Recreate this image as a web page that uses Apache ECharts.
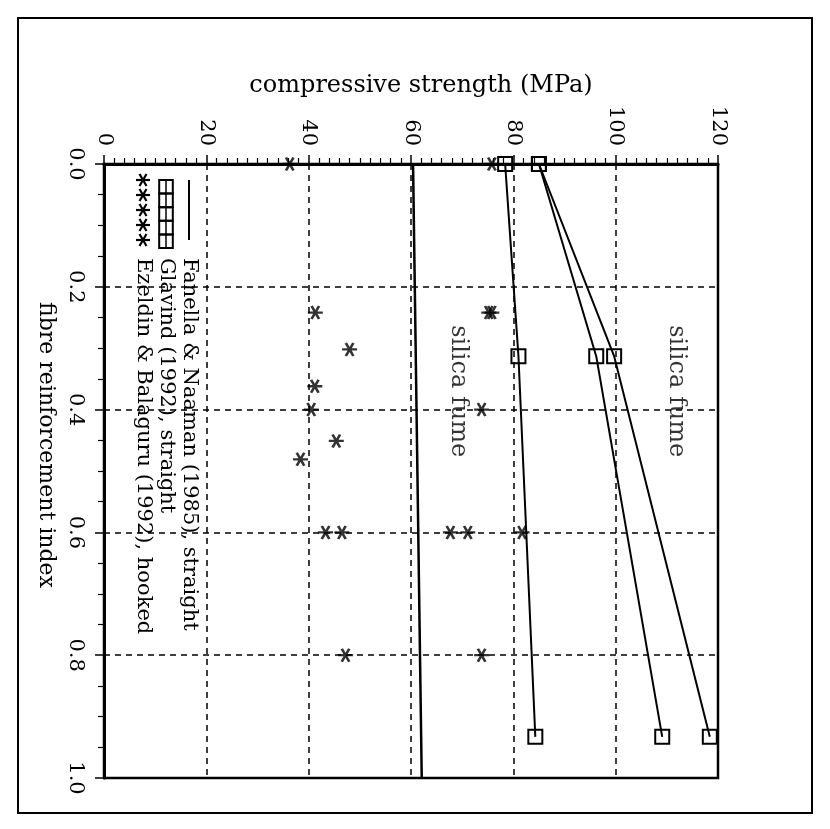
<!DOCTYPE html>
<html>
<head>
<meta charset="utf-8">
<script src="https://cdn.jsdelivr.net/npm/echarts@6/dist/echarts.min.js"></script>
<style>
  html, body { margin: 0; padding: 0; background: #fff; }
  #chart { width: 830px; height: 829px; }
</style>
</head>
<body>
<div id="chart"></div>
<script>
// axis ticks
var strengthTicks = [0, 20, 40, 60, 80, 100, 120];
var indexTicks = [0, 0.2, 0.4, 0.6, 0.8, 1.0];

// Fanella & Naaman (1985), straight
var fanellaIndex = [0, 1.0];
var fanellaStrength = [60.4, 62.1];

// Glavind (1992), straight - three mixes
var glavindIndex = [0, 0.313, 0.933];
var glavindLow = [78.4, 81.0, 84.3];
var glavindMid = [85.0, 96.2, 109.1];
var glavindHigh = [85.0, 99.7, 118.4];

// Ezeldin & Balaguru (1992), hooked
var ezeldinIndex = [0, 0, 0.242, 0.242, 0.242, 0.302, 0.362, 0.4, 0.4, 0.451, 0.481,
  0.6, 0.6, 0.6, 0.6, 0.6, 0.8, 0.8];
var ezeldinStrength = [36.3, 75.8, 41.3, 75.2, 75.8, 48.0, 41.2, 40.5, 73.8, 45.4, 38.4,
  43.3, 46.5, 67.7, 71.1, 81.7, 47.2, 73.8];

// notes in the plot
var noteText = ["silica fume", "silica fume"];
var noteIndex = [0.37, 0.37];
var noteStrength = [69.3, 111.8];

var serif = "DejaVu Serif";
var star = "path://M0,8.66L20,8.66M5,0L15,17.32M15,0L5,17.32";

function pairs(xs, ys) {
  return xs.map(function (x, i) { return [x, ys[i]]; });
}

var chart = echarts.init(document.getElementById("chart"));

// legend drawn by hand, turned a quarter clockwise like the rest of the text
var legendItems = [];
legendItems.push({ type: "line", shape: { x1: 4, y1: 11, x2: 64, y2: 11 }, style: { stroke: "#000", lineWidth: 2 } });
for (var i = 0; i < 5; i++) {
  legendItems.push({ type: "rect", shape: { x: 4 + i * 13.6, y: 27.2, width: 13.6, height: 13.6 },
    style: { fill: "none", stroke: "#000", lineWidth: 2 } });
}
legendItems.push({ type: "line", shape: { x1: 4, y1: 34, x2: 72, y2: 34 }, style: { stroke: "#000", lineWidth: 1.5 } });
for (var j = 0; j < 5; j++) {
  var cx = 4 + j * 15, cy = 57;
  [[0, -7, 0, 7], [-6.06, -3.5, 6.06, 3.5], [-6.06, 3.5, 6.06, -3.5]].forEach(function (s) {
    legendItems.push({ type: "line", shape: { x1: cx + s[0], y1: cy + s[1], x2: cx + s[2], y2: cy + s[3] },
      style: { stroke: "#000", lineWidth: 2.2 } });
  });
}
var legendText = ["Fanella & Naaman (1985), straight", "Glavind (1992), straight", "Ezeldin & Balaguru (1992), hooked"];
legendText.forEach(function (t, k) {
  legendItems.push({ type: "text", x: 82, y: 11 + k * 23,
    style: { text: t, font: "21px '" + serif + "'", fill: "#000", verticalAlign: "middle" } });
});

var glavindLine = {
  type: "line",
  symbol: "rect",
  symbolSize: 14,
  lineStyle: { color: "#000", width: 2 },
  itemStyle: { color: "rgba(0,0,0,0)", borderColor: "#000", borderWidth: 2 },
  z: 3
};

var option = {
  animation: false,
  backgroundColor: "#fff",
  grid: {
    left: 104, top: 164, right: 112, bottom: 51,
    show: true, borderColor: "#000", borderWidth: 2.5, backgroundColor: "transparent"
  },
  xAxis: {
    type: "value",
    position: "top",
    min: strengthTicks[0],
    max: strengthTicks[strengthTicks.length - 1],
    interval: strengthTicks[1] - strengthTicks[0],
    name: "compressive strength (MPa)",
    nameLocation: "middle",
    nameGap: 60,
    nameTextStyle: { fontFamily: serif, fontSize: 24, color: "#000", padding: [0, 0, 0, 20] },
    axisLine: { show: true, lineStyle: { color: "#000", width: 3 } },
    axisTick: { show: true, length: 9, lineStyle: { color: "#000", width: 1.5 } },
    minorTick: { show: true, splitNumber: 10, length: 6, lineStyle: { color: "#000", width: 1.2 } },
    axisLabel: { rotate: -90, margin: 18, fontFamily: serif, fontSize: 21, color: "#000" },
    splitLine: { show: true, lineStyle: { color: "#000", width: 1.5, type: [6, 5] } }
  },
  yAxis: {
    type: "value",
    inverse: true,
    min: indexTicks[0],
    max: indexTicks[indexTicks.length - 1],
    interval: indexTicks[1] - indexTicks[0],
    name: "fibre reinforcement index",
    nameLocation: "middle",
    nameRotate: -90,
    nameGap: 40,
    nameTextStyle: { fontFamily: serif, fontSize: 22, color: "#000", padding: [0, 52, 0, 0] },
    axisLine: { show: true, lineStyle: { color: "#000", width: 3 } },
    axisTick: { show: true, length: 9, lineStyle: { color: "#000", width: 1.5 } },
    minorTick: { show: true, splitNumber: 4, length: 6, lineStyle: { color: "#000", width: 1.2 } },
    axisLabel: {
      rotate: -90, margin: 18, fontFamily: serif, fontSize: 21, color: "#000",
      formatter: function (v) { return v.toFixed(1); }
    },
    splitLine: { show: true, lineStyle: { color: "#000", width: 1.5, type: [6, 5] } }
  },
  graphic: [
    { type: "rect", shape: { x: 18, y: 18, width: 794, height: 795 },
      style: { fill: "none", stroke: "#000", lineWidth: 2 } },
    { type: "group", x: 200, y: 176, rotation: -Math.PI / 2, children: legendItems }
  ],
  series: [
    {
      name: "Fanella & Naaman (1985), straight",
      type: "line",
      symbol: "none",
      data: pairs(fanellaStrength, fanellaIndex),
      lineStyle: { color: "#000", width: 2.5 },
      z: 2
    },
    Object.assign({ name: "Glavind (1992), straight", data: pairs(glavindLow, glavindIndex) }, glavindLine),
    Object.assign({ name: "Glavind (1992), straight", data: pairs(glavindMid, glavindIndex) }, glavindLine),
    Object.assign({ name: "Glavind (1992), straight", data: pairs(glavindHigh, glavindIndex) }, glavindLine),
    {
      name: "Ezeldin & Balaguru (1992), hooked",
      type: "scatter",
      symbol: star,
      symbolSize: [15, 13],
      data: pairs(ezeldinStrength, ezeldinIndex),
      itemStyle: { color: "#000", borderColor: "#000", borderWidth: 2.5 },
      z: 4
    },
    {
      name: "notes",
      type: "scatter",
      silent: true,
      symbolSize: 1,
      itemStyle: { color: "rgba(0,0,0,0)" },
      data: noteText.map(function (t, i) { return { name: t, value: [noteStrength[i], noteIndex[i]] }; }),
      label: {
        show: true, position: "inside", rotate: -90, formatter: "{b}",
        fontFamily: serif, fontSize: 24, color: "#000", textBorderWidth: 0
      }
    }
  ]
};
chart.setOption(option);
</script>
</body>
</html>
